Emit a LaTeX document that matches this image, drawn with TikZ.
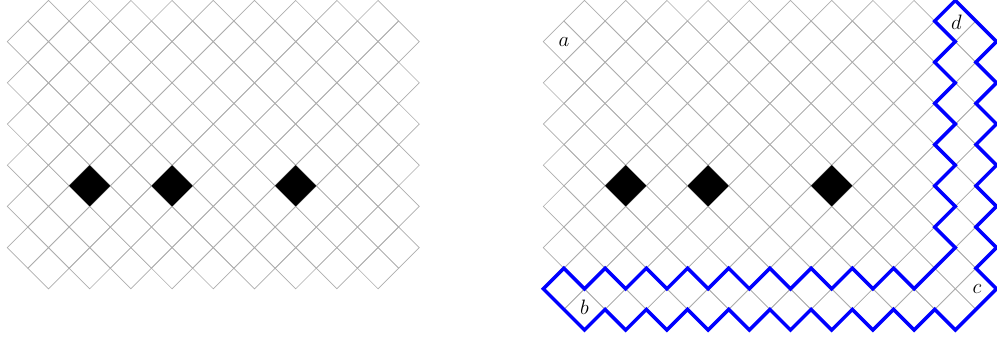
\documentclass[tikz,border=0pt]{standalone}
\usepackage{tikz}
\usetikzlibrary{calc}
\usetikzlibrary{positioning}

\begin{document}
\begin{tikzpicture}[
		x=0.5cm, y=-0.5cm,
		gridline/.style={draw=black!32, line width=0.45pt},
		hole/.style={fill=black},
		bandline/.style={draw=blue, line width=2.4pt, line join=miter},
		lbl/.style={font=\Large, inner sep=0pt}
	]

	\useasboundingbox (0,-0.02) rectangle (48.398,16.63);

	% Left lattice
	\begin{scope}[shift={(0.354,0)}]
		\foreach \i in {1,...,19} {
			\foreach \j in {1,...,13} {
				\ifodd\numexpr\i+\j\relax
					\draw[gridline] (\i-1,\j) -- (\i,\j-1) -- (\i+1,\j) -- (\i,\j+1) -- cycle;
				\fi
			}
		}
		% black cells
		\foreach \i in {4,8,14} {
			\fill[hole] (\i-1,9) -- (\i,8) -- (\i+1,9) -- (\i,10) -- cycle;
		}
	\end{scope}

	% Right lattice with the band
	\begin{scope}[shift={(26.374,0)}]
		\foreach \i in {1,...,21} {
			\foreach \j in {1,...,15} {
				\ifodd\numexpr\i+\j\relax
					\draw[gridline] (\i-1,\j) -- (\i,\j-1) -- (\i+1,\j) -- (\i,\j+1) -- cycle;
				\fi
			}
		}
		% black cells
		\foreach \i in {4,8,14} {
			\fill[hole] (\i-1,9) -- (\i,8) -- (\i+1,9) -- (\i,10) -- cycle;
		}

		% band boundary
		\draw[bandline] (0,14)
			\foreach \k in {1,3,...,17} { -- (\k,13) -- (\k+1,14) }
			-- (19,13) -- (20,12)
			\foreach \k in {11,9,...,1} { -- (19,\k) -- (20,\k-1) }
			-- (21,1) -- (22,2)
			\foreach \k in {3,5,...,13} { -- (21,\k) -- (22,\k+1) }
			-- (21,15) -- (20,16)
			\foreach \k in {19,17,...,3} { -- (\k,15) -- (\k-1,16) }
			-- (1,15) -- cycle;

		% labels
		\node[lbl] (la) at (1,2) {$a$};
		\node[lbl] (lb) at (2,14.9) {$b$};
		\node[lbl] (lc) at (21.05,14) {$c$};
		\node[lbl] (ld) at (20.05,1.05) {$d$};
	\end{scope}

\end{tikzpicture}
\end{document}
